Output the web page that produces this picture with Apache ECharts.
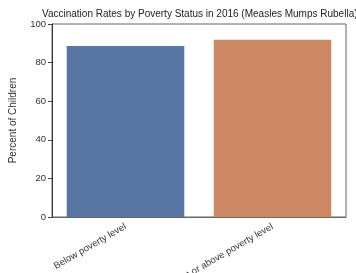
<!DOCTYPE html>
<html><head><meta charset="utf-8">
<script src="https://cdn.jsdelivr.net/npm/echarts@6/dist/echarts.min.js"></script>
<style>html,body{margin:0;padding:0;background:#fff}#c{width:356px;height:273px}</style>
</head><body><div id="c"></div>
<script>
const categories = ["Below poverty level", "At or above poverty level"];
const values = [88.6, 91.8];
const colors = ["#5975A4", "#CC8963"];
const yTicks = [0, 20, 40, 60, 80, 100];

const F = 'Liberation Sans';
const chart = echarts.init(document.getElementById('c'), null, {renderer: 'canvas'});
chart.setOption({
  animation: false,
  title: {
    text: "Vaccination Rates by Poverty Status in 2016 (Measles Mumps Rubella)",
    left: 42, top: 9, padding: 0,
    textStyle: {fontFamily: F, fontSize: 10, fontWeight: 'normal', color: '#222'}
  },
  grid: {left: 52, right: 10, top: 24, bottom: 56, show: true, borderColor: '#666', borderWidth: 1, outerBoundsMode: 'none', containLabel: false},
  xAxis: {
    type: 'category', data: categories,
    axisLine: {lineStyle: {color: '#666'}},
    axisTick: {alignWithLabel: true, length: 4, lineStyle: {color: '#444'}},
    axisLabel: {rotate: 30, margin: 9, fontFamily: F, fontSize: 9.5, color: '#333', interval: 0}
  },
  yAxis: {
    type: 'value', min: yTicks[0], max: yTicks[yTicks.length-1], interval: 20,
    name: 'Percent of Children', nameLocation: 'middle', nameGap: 34,
    nameTextStyle: {fontFamily: F, fontSize: 10, color: '#333'},
    axisLine: {show: true, lineStyle: {color: '#333'}},
    axisTick: {show: true, length: 4, lineStyle: {color: '#444'}},
    splitLine: {show: false},
    axisLabel: {margin: 6, fontFamily: F, fontSize: 9.5, color: '#333'}
  },
  series: [{
    type: 'bar', barWidth: '80%',
    data: values.map((v, i) => ({value: v, itemStyle: {color: colors[i]}}))
  }]
});
</script></body></html>
